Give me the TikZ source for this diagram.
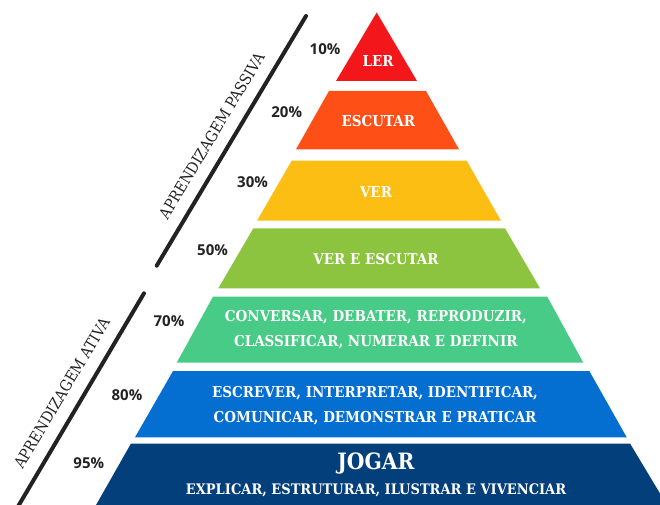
\documentclass[tikz,border=0pt]{standalone}
\usepackage{fontspec}
\setmainfont{DejaVu Serif}
\newfontfamily\slabfont{DejaVu Serif Condensed}
\newfontfamily\pctfont{Open Sans}
\definecolor{cLer}{HTML}{F3171B}
\definecolor{cEsc}{HTML}{FE4F16}
\definecolor{cVer}{HTML}{FDBE13}
\definecolor{cVerEsc}{HTML}{8DC43F}
\definecolor{cConv}{HTML}{48CB86}
\definecolor{cEscr}{HTML}{046ED1}
\definecolor{cJog}{HTML}{023F7B}
\definecolor{cInk}{HTML}{222222}
\tikzset{
  layertext/.style={text=white, inner sep=0pt, align=center, font=\slabfont\bfseries\fontsize{15}{25}\selectfont},
  pcttext/.style={text=cInk, inner sep=0pt, font=\pctfont\bfseries\fontsize{15}{18}\selectfont},
  sidetext/.style={text=cInk, inner sep=0pt, font=\slabfont\fontsize{15.5}{18}\selectfont},
  sepline/.style={draw=cInk, line width=4pt, line cap=round}
}
\begin{document}
\begin{tikzpicture}[x=1pt,y=-1pt]
\useasboundingbox (0,0) rectangle (660,505);
\clip (0,0) rectangle (660,505);
% layers
\fill[cLer] (376.7,12.5) -- (417,81) -- (336,81) -- cycle;
\fill[cEsc] (329,91) -- (426,91) -- (459,149.3) -- (296,149.3) -- cycle;
\fill[cVer] (291.7,160.7) -- (466.7,160.7) -- (501,220.7) -- (257,220.7) -- cycle;
\fill[cVerEsc] (253.3,228.3) -- (505,228.3) -- (540,288.3) -- (218.3,288.3) -- cycle;
\fill[cConv] (213,296.7) -- (547.3,296.7) -- (583.3,362.7) -- (176.7,362.7) -- cycle;
\fill[cEscr] (173,371) -- (589.3,371) -- (626.7,437.3) -- (135,437.3) -- cycle;
\fill[cJog] (131,443.5) -- (630,443.5) -- (667.5,506) -- (95.5,506) -- cycle;
% layer texts
\node[layertext] (ler) at (378,60.8) {LER};
\node[layertext] (escutar) at (378.3,121) {ESCUTAR};
\node[layertext] (ver) at (376,191.7) {VER};
\node[layertext] (verescutar) at (376,259) {VER E ESCUTAR};
\node[layertext] (conversar) at (375.8,330) {CONVERSAR, DEBATER, REPRODUZIR,\\CLASSIFICAR, NUMERAR E DEFINIR};
\node[layertext] (escrever) at (375,405.8) {ESCREVER, INTERPRETAR, IDENTIFICAR,\\COMUNICAR, DEMONSTRAR E PRATICAR};
\node[layertext, font=\slabfont\bfseries\fontsize{22.5}{25}\selectfont] (jogar) at (375.8,463.3) {JOGAR};
\node[layertext, font=\slabfont\bfseries\fontsize{14.5}{18}\selectfont] (explicar) at (376,490.3) {EXPLICAR, ESTRUTURAR, ILUSTRAR E VIVENCIAR};
% percentages
\node[pcttext] (p10) at (325,49) {10\%};
\node[pcttext] (p20) at (286.7,112) {20\%};
\node[pcttext] (p30) at (252.5,182) {30\%};
\node[pcttext] (p50) at (212.5,250) {50\%};
\node[pcttext] (p70) at (169,321.5) {70\%};
\node[pcttext] (p80) at (127,395) {80\%};
\node[pcttext] (p95) at (88.8,463.5) {95\%};
% side lines
\coordinate (pa) at (306,16);
\coordinate (pb) at (156.7,265.7);
\coordinate (aa) at (144,293.3);
\coordinate (ab) at (18.3,506);
\draw[sepline] (pa) -- (pb);
\draw[sepline] (aa) -- (ab);
\node[sidetext, rotate=59.1] (passiva) at (211.7,135.8) {APRENDIZAGEM PASSIVA};
\node[sidetext, rotate=59.2] (ativa) at (61.7,393) {APRENDIZAGEM ATIVA};
\end{tikzpicture}
\end{document}
